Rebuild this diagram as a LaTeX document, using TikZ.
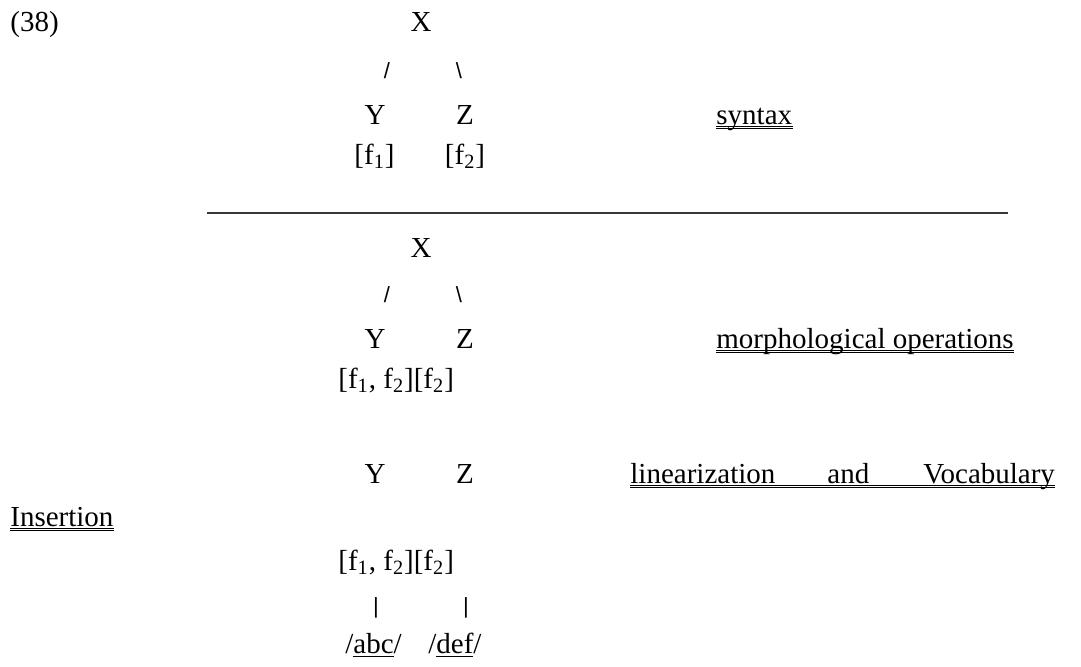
\documentclass[tikz,border=0pt]{standalone}
\usepackage{fontspec}
\setmainfont{Liberation Serif}
\newfontfamily\branchfont{Liberation Sans}
\usetikzlibrary{positioning}

\begin{document}
\begin{tikzpicture}[x=0.5pt,y=-0.5pt,font=\fontsize{14.5}{17}\selectfont,
	every node/.style={inner sep=0pt,anchor=base},
	branch/.style={font=\branchfont\fontsize{11}{13}\selectfont},
	uline/.style={line width=0.5pt}]
	\useasboundingbox (0,0) rectangle (1081,666);
	% syntax
	\node (num) at (10,31)[anchor=base west] {(38)};
	\node (x1) at (421,31) {X};
	\node (l1) at (387,78)[branch] {/};
	\node (r1) at (459,78)[branch] {\textbackslash};
	\node (y1) at (375,124) {Y};
	\node (z1) at (465,124) {Z};
	\node (fy1) at (374.5,164) {[f\textsubscript{1}]};
	\node (fz1) at (465,164) {[f\textsubscript{2}]};
	\node (syn) at (716,124)[anchor=base west] {syntax};
	% separator
	\coordinate (ruleL) at (207,213);
	\coordinate (ruleR) at (1008,213);
	\draw[black!78,line width=1pt] (ruleL)--(ruleR);
	% morphology
	\node (x2) at (421,257) {X};
	\node (l2) at (387,302)[branch] {/};
	\node (r2) at (459,302)[branch] {\textbackslash};
	\node (y2) at (375,348) {Y};
	\node (z2) at (465,348) {Z};
	\node (f2) at (338,388)[anchor=base west] {[f\textsubscript{1}, f\textsubscript{2}][f\textsubscript{2}]};
	\node (morph) at (716,348)[anchor=base west] {morphological operations};
	% linearization
	\node (y3) at (375,483) {Y};
	\node (z3) at (465,483) {Z};
	\node (lin1) at (630,483)[anchor=base west] {linearization};
	\node (lin2) at (827,483)[anchor=base west] {and};
	\node (lin3) at (923,483)[anchor=base west] {Vocabulary};
	\node (ins) at (10,526)[anchor=base west] {Insertion};
	\node (f3) at (338,570)[anchor=base west] {[f\textsubscript{1}, f\textsubscript{2}][f\textsubscript{2}]};
	\node (b1) at (376,613)[branch] {|};
	\node (b2) at (466,613)[branch] {|};
	\node (abc) at (345,653)[anchor=base west] {/\underline{abc}/};
	\node (def) at (428,653)[anchor=base west] {/\underline{def}/};
	% double underlines
	\foreach \a/\b in {syn/syn,morph/morph,lin1/lin3,ins/ins}{
		\draw[uline] ([yshift=-1.2pt]\a.base west)--([yshift=-1.2pt]\b.base east);
		\draw[uline] ([yshift=-2.2pt]\a.base west)--([yshift=-2.2pt]\b.base east);
	}
\end{tikzpicture}
\end{document}
